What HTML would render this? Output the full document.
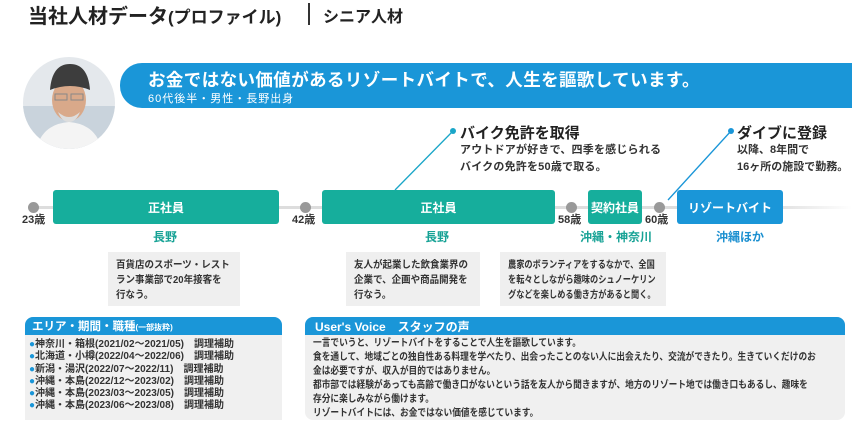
<!DOCTYPE html>
<html><head><meta charset="utf-8"><style>
*{margin:0;padding:0;box-sizing:border-box}
body{width:852px;height:425px;background:#fff;position:relative;overflow:hidden;font-family:"Liberation Sans","Noto Sans CJK JP",sans-serif;color:#222}
.a{position:absolute;white-space:nowrap}
.tb{position:absolute;background:#16ae9c;color:#fff;font-weight:bold;font-size:12px;display:flex;align-items:center;justify-content:center;border-radius:3px;height:34px;top:190px}
.dot{position:absolute;width:11px;height:11px;border-radius:50%;background:#999;top:202px}
.age{position:absolute;top:211px;font-size:11px;font-weight:bold;color:#333}
.pl{position:absolute;top:228px;font-size:12px;font-weight:bold;color:#16a295}
.desc{position:absolute;top:252px;height:54px;background:#efefef;font-size:10px;line-height:15px;padding:6px 8px;font-weight:bold;color:#333;white-space:nowrap;overflow:hidden}
.desc span{display:inline-block;transform-origin:0 0}
</style></head><body>
<div class="a" style="left:28px;top:0px;font-size:20px;font-weight:bold">当社人材データ<span style="font-size:17px">(プロファイル)</span></div>
<div class="a" style="left:308px;top:3px;width:2px;height:22px;background:#333"></div>
<div class="a" style="left:323px;top:3px;font-size:16px;font-weight:bold">シニア人材</div>

<div class="a" style="left:120px;top:63px;width:740px;height:45px;background:#1a96d8;border-radius:22px 0 0 22px"></div>
<div class="a" style="left:148px;top:67px;font-size:17.5px;font-weight:bold;color:#fff;letter-spacing:0.4px">お金ではない価値があるリゾートバイトで、人生を謳歌しています。</div>
<div class="a" style="left:148px;top:90px;font-size:11px;color:#fff;letter-spacing:1px">60代後半・男性・長野出身</div>

<svg class="a" style="left:22px;top:56px" width="94" height="94" viewBox="0 0 94 94">
<defs><clipPath id="c"><circle cx="47" cy="47" r="46"/></clipPath></defs>
<g clip-path="url(#c)"><rect width="94" height="94" fill="#e4e8ec"/><rect y="50" width="94" height="44" fill="#c9d3dc"/>
<path d="M14 94 Q20 68 47 66 Q74 68 80 94Z" fill="#f4f4f4"/>
<ellipse cx="47" cy="44" rx="17" ry="21" fill="#d9a98a"/>
<path d="M28 34 Q30 8 48 8 Q66 8 68 34 Q48 26 28 34Z" fill="#3d3d3d"/>
<path d="M36 56 Q47 66 58 56 Q54 66 47 66 Q40 66 36 56Z" fill="#ddd"/>
<rect x="33" y="38" width="12" height="6" fill="none" stroke="#888"/><rect x="49" y="38" width="12" height="6" fill="none" stroke="#888"/></g>
</svg>

<div class="a" style="left:30px;top:206px;width:822px;height:3px;background:linear-gradient(90deg,#ddd 90%,#fff)"></div>
<div class="dot" style="left:28px"></div><div class="dot" style="left:300px"></div><div class="dot" style="left:566px"></div><div class="dot" style="left:654px"></div>
<div class="age" style="left:22px">23歳</div><div class="age" style="left:292px">42歳</div><div class="age" style="left:558px">58歳</div><div class="age" style="left:645px">60歳</div>
<div class="tb" style="left:53px;width:226px">正社員</div>
<div class="tb" style="left:322px;width:233px">正社員</div>
<div class="tb" style="left:588px;width:54px">契約社員</div>
<div class="tb" style="left:677px;width:106px;background:#1a96d8">リゾートバイト</div>
<div class="pl" style="left:153px">長野</div><div class="pl" style="left:425px">長野</div><div class="pl" style="left:580px">沖縄・神奈川</div><div class="pl" style="left:716px;color:#1a8fd0">沖縄ほか</div>
<div class="desc" style="left:108px;width:132px"><span style="transform:scaleX(0.95)">百貨店のスポーツ・レスト<br>ラン事業部で20年接客を<br>行なう。</span></div>
<div class="desc" style="left:346px;width:134px"><span style="transform:scaleX(0.95)">友人が起業した飲食業界の<br>企業で、企画や商品開発を<br>行なう。</span></div>
<div class="desc" style="left:500px;width:166px"><span style="transform:scaleX(0.82)">農家のボランティアをするなかで、全国<br>を転々としながら趣味のシュノーケリン<br>グなどを楽しめる働き方があると聞く。</span></div>

<svg class="a" style="left:0;top:0" width="852" height="425"><line x1="453" y1="131" x2="395" y2="190" stroke="#1aa6c8" stroke-width="1.3"/><circle cx="453" cy="131" r="3" fill="#1aa6c8"/>
<line x1="731" y1="131" x2="668" y2="200" stroke="#1a96d8" stroke-width="1.3"/><circle cx="731" cy="131" r="3" fill="#1a96d8"/></svg>
<div class="a" style="left:460px;top:122px;font-size:15px;font-weight:bold">バイク免許を取得</div>
<div class="a" style="left:460px;top:142px;font-size:11px;line-height:17px;font-weight:bold;color:#333;letter-spacing:0.2px">アウトドアが好きで、四季を感じられる<br>バイクの免許を50歳で取る。</div>
<div class="a" style="left:737px;top:122px;font-size:15px;font-weight:bold">ダイブに登録</div>
<div class="a" style="left:737px;top:142px;font-size:11px;line-height:17px;font-weight:bold;color:#333">以降、8年間で<br>16ヶ所の施設で勤務。</div>

<div class="a" style="left:25px;top:317px;width:257px;height:103px;background:#f0f0f0;border-radius:8px 8px 0 0"></div>
<div class="a" style="left:25px;top:317px;width:257px;height:18px;background:#1a96d8;border-radius:8px 8px 0 0;color:#fff;font-weight:bold;font-size:11.5px;padding:1px 7px">エリア・期間・職種<span style="font-size:8px">(一部抜粋)</span></div>
<div class="a" style="left:29px;top:339px;font-size:10px;line-height:12.3px;font-weight:bold;color:#333">
<span style="color:#1a96d8">●</span>神奈川・箱根(2021/02～2021/05)　調理補助<br>
<span style="color:#1a96d8">●</span>北海道・小樽(2022/04～2022/06)　調理補助<br>
<span style="color:#1a96d8">●</span>新潟・湯沢(2022/07～2022/11)　調理補助<br>
<span style="color:#1a96d8">●</span>沖縄・本島(2022/12～2023/02)　調理補助<br>
<span style="color:#1a96d8">●</span>沖縄・本島(2023/03～2023/05)　調理補助<br>
<span style="color:#1a96d8">●</span>沖縄・本島(2023/06～2023/08)　調理補助</div>

<div class="a" style="left:305px;top:317px;width:540px;height:103px;background:#f0f0f0;border-radius:8px"></div>
<div class="a" style="left:305px;top:317px;width:540px;height:18px;background:#1a96d8;border-radius:8px 8px 0 0;color:#fff;font-weight:bold;font-size:12px;padding:1px 10px">User's Voice　スタッフの声</div>
<div class="a" style="left:313px;top:337px;font-size:10px;line-height:14px;font-weight:bold;color:#333;transform:scaleX(0.87);transform-origin:0 0">一言でいうと、リゾートバイトをすることで人生を謳歌しています。<br>食を通して、地域ごとの独自性ある料理を学べたり、出会ったことのない人に出会えたり、交流ができたり。生きていくだけのお<br>金は必要ですが、収入が目的ではありません。<br>都市部では経験があっても高齢で働き口がないという話を友人から聞きますが、地方のリゾート地では働き口もあるし、趣味を<br>存分に楽しみながら働けます。<br>リゾートバイトには、お金ではない価値を感じています。</div>
</body></html>
